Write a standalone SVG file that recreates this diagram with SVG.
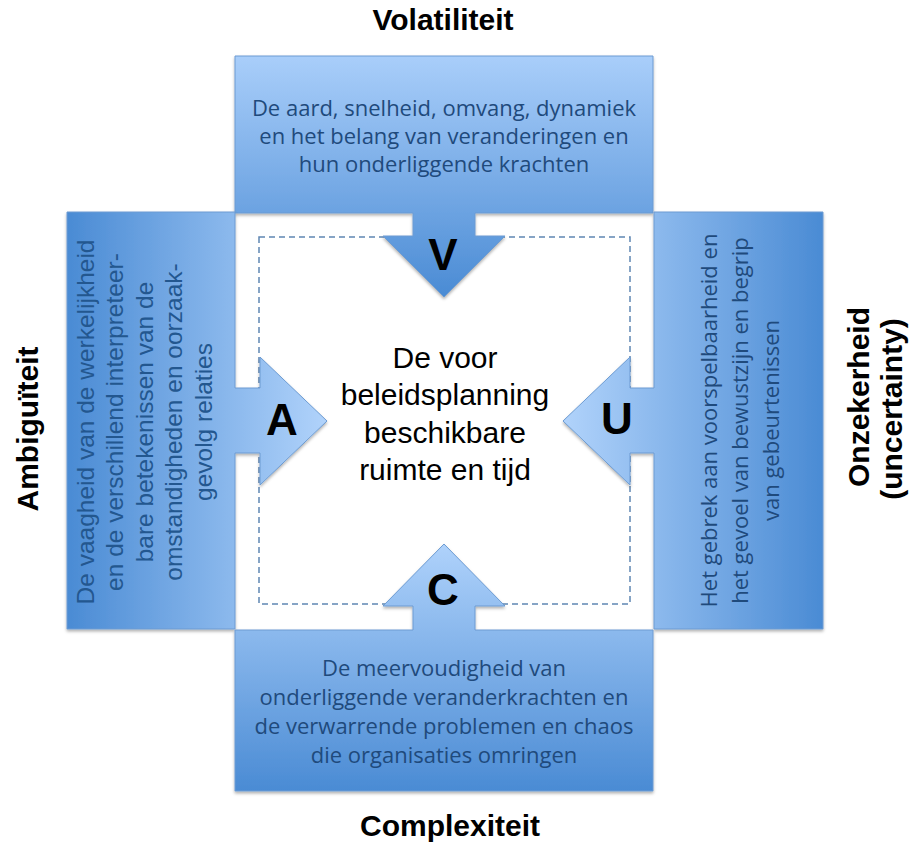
<svg xmlns="http://www.w3.org/2000/svg" width="915" height="843" viewBox="0 0 915 843">
<style>
.box{stroke:#6c9bd2;stroke-width:1}
.desc{font-family:"Open Sans","Noto Sans",sans-serif;font-size:22px;fill:#1f4a7c;text-anchor:middle}
.descA{font-family:"Liberation Sans",Arial,sans-serif;font-size:24.5px;fill:#23578f;text-anchor:middle}
.letter{font-family:"Liberation Sans",Arial,sans-serif;font-size:44px;font-weight:bold;fill:#000;text-anchor:middle}
.title{font-family:"Liberation Sans",Arial,sans-serif;font-size:30px;font-weight:bold;fill:#000;text-anchor:middle}
.center{font-family:"Liberation Sans",Arial,sans-serif;font-size:30px;fill:#000;text-anchor:middle}
</style>
<defs>
<linearGradient id="gTop" gradientUnits="userSpaceOnUse" x1="0" y1="56" x2="0" y2="297">
<stop offset="0" stop-color="#a9cefa"/><stop offset="1" stop-color="#4a8bd4"/>
</linearGradient>
<linearGradient id="gBot" gradientUnits="userSpaceOnUse" x1="0" y1="544" x2="0" y2="791">
<stop offset="0" stop-color="#afd2fb"/><stop offset="1" stop-color="#4a8bd4"/>
</linearGradient>
<linearGradient id="gLeft" gradientUnits="userSpaceOnUse" x1="67" y1="0" x2="327" y2="0">
<stop offset="0" stop-color="#4a8bd4"/><stop offset="1" stop-color="#b1d3fb"/>
</linearGradient>
<linearGradient id="gRight" gradientUnits="userSpaceOnUse" x1="563" y1="0" x2="823" y2="0">
<stop offset="0" stop-color="#b1d3fb"/><stop offset="1" stop-color="#4a8bd4"/>
</linearGradient>
<filter id="sh" x="-10%" y="-10%" width="120%" height="120%">
<feDropShadow dx="0" dy="2" stdDeviation="1.5" flood-color="#000" flood-opacity="0.3"/>
</filter>
</defs>
<rect x="0" y="0" width="915" height="843" fill="#fff"/>

<g id="connectors">
<rect x="259" y="237" width="371" height="367" fill="none" stroke="#5f86b3" stroke-width="1.5" stroke-dasharray="6,4"/>
</g>

<g id="volatiliteit">
<path class="box" fill="url(#gTop)" filter="url(#sh)" d="M235,56 H653 V213 H475 V236 H505 L444,297 L383,236 H413 V213 H235 Z"/>
<text class="desc" x="444" y="116">De aard, snelheid, omvang, dynamiek</text>
<text class="desc" x="444" y="144">en het belang van veranderingen en</text>
<text class="desc" x="444" y="172">hun onderliggende krachten</text>
<text class="letter" x="443" y="270">V</text>
<text class="title" x="443" y="30">Volatiliteit</text>
</g>

<g id="ambiguiteit">
<path class="box" fill="url(#gLeft)" filter="url(#sh)" d="M67,212 H235 V388 H260 V357 L327,421 L260,485 V453 H235 V629 H67 Z"/>
<text class="descA" transform="translate(94,422) rotate(-90)">De vaagheid van de werkelijkheid</text>
<text class="descA" transform="translate(123.4,422) rotate(-90)">en de verschillend interpreteer-</text>
<text class="descA" transform="translate(152.8,422) rotate(-90)">bare betekenissen van de</text>
<text class="descA" transform="translate(182.2,422) rotate(-90)">omstandigheden en oorzaak-</text>
<text class="descA" transform="translate(211.6,422) rotate(-90)">gevolg relaties</text>
<text class="letter" x="282" y="435">A</text>
<text class="title" transform="translate(38,429) rotate(-90)">Ambiguïteit</text>
</g>

<g id="onzekerheid">
<path class="box" fill="url(#gRight)" filter="url(#sh)" d="M823,212 V629 H654 V453 H630 V485 L563,421 L630,357 V388 H654 V212 Z"/>
<text class="desc" transform="translate(717,420.5) rotate(-90)">Het gebrek aan voorspelbaarheid en</text>
<text class="desc" transform="translate(748,420.5) rotate(-90)">het gevoel van bewustzijn en begrip</text>
<text class="desc" transform="translate(779,420.5) rotate(-90)">van gebeurtenissen</text>
<text class="letter" x="617" y="434">U</text>
<text class="title" transform="translate(869,397) rotate(-90)">Onzekerheid</text>
<text class="title" transform="translate(902,409) rotate(-90)">(uncertainty)</text>
</g>

<g id="complexiteit">
<path class="box" fill="url(#gBot)" filter="url(#sh)" d="M235,791 V630 H413 V606 H383 L444,544 L505,606 H475 V630 H653 V791 Z"/>
<text class="desc" x="444" y="676">De meervoudigheid van</text>
<text class="desc" x="444" y="705">onderliggende veranderkrachten en</text>
<text class="desc" x="444" y="734">de verwarrende problemen en chaos</text>
<text class="desc" x="444" y="763">die organisaties omringen</text>
<text class="letter" x="443" y="605">C</text>
<text class="title" x="450" y="836">Complexiteit</text>
</g>

<g id="center">
<text class="center" x="445" y="368">De voor</text>
<text class="center" x="445" y="405">beleidsplanning</text>
<text class="center" x="445" y="443">beschikbare</text>
<text class="center" x="445" y="480">ruimte en tijd</text>
</g>
</svg>
